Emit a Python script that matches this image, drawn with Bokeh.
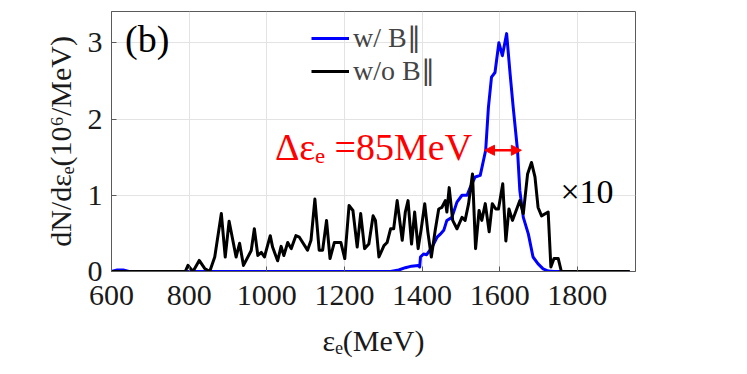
from bokeh.plotting import figure
from bokeh.models import (Range1d, Legend, LegendItem, Label, Arrow,
                          NormalHead, FixedTicker, ColumnDataSource)
from bokeh.embed import file_html
from bokeh.resources import INLINE

# ---- data ----
# energy (MeV) and dN/dE (10^6/MeV) with parallel B field
w_B_energy = [600, 615, 630, 645, 1319, 1340, 1357, 1373, 1390, 1394, 1396, 1404, 1412,
              1426, 1439, 1447, 1456, 1464, 1477, 1490, 1503, 1516, 1524, 1537, 1550,
              1558, 1564, 1571, 1579, 1588, 1598, 1607, 1618, 1627, 1635, 1646, 1652,
              1661, 1674, 1686, 1699, 1712, 1725, 1740, 1935]
w_B_value = [0, 0.02, 0.02, 0, 0, 0.02, 0.05, 0.07, 0.08, 0.06, 0.19, 0.23, 0.22,
             0.32, 0.45, 0.49, 0.54, 0.67, 0.71, 0.91, 1.00, 1.00, 1.10, 1.24, 1.26,
             1.45, 1.59, 2.15, 2.55, 2.61, 3.00, 2.83, 3.12, 2.59, 2.15, 1.59, 1.06,
             0.71, 0.49, 0.19, 0.10, 0.035, 0.005, 0, 0]

# energy (MeV) and dN/dE (shown x10) without parallel B field
wo_B_energy = [600, 790, 797, 810, 826, 840, 853, 866, 883, 893, 903, 921, 930, 940,
               960, 968, 977, 986, 994, 1009, 1015, 1028, 1037, 1044, 1054, 1063, 1075,
               1084, 1105, 1114, 1124, 1135, 1144, 1154, 1163, 1174, 1191, 1201, 1212,
               1222, 1233, 1242, 1252, 1263, 1274, 1280, 1289, 1302, 1310, 1319, 1327,
               1336, 1349, 1357, 1364, 1373, 1381, 1390, 1398, 1407, 1415, 1424, 1434,
               1443, 1451, 1460, 1464, 1470, 1479, 1490, 1503, 1511, 1520, 1530, 1538,
               1547, 1554, 1563, 1573, 1581, 1590, 1597, 1608, 1616, 1624, 1633, 1644,
               1652, 1661, 1672, 1682, 1691, 1699, 1708, 1725, 1732, 1740, 1751, 1759, 1935]
wo_B_value_x10 = [0, 0, 0.08, 0, 0.145, 0.04, 0, 0.19, 0.76, 0.19, 0.66, 0.19, 0.37, 0.08,
                  0.275, 0.56, 0.21, 0.25, 0.19, 0.47, 0.32, 0.14, 0.33, 0.21, 0.38, 0.30, 0.47,
                  0.45, 0.28, 0.41, 0.95, 0.28, 0.28, 0.67, 0.17, 0.38, 0.38, 0.17, 0.865,
                  0.80, 0.32, 0.76, 0.30, 0.36, 0.73, 0.67, 0.19, 0.34, 0.38, 0.56, 0.56,
                  0.93, 0.41, 0.78, 0.93, 0.36, 0.78, 0.30, 0.56, 0.89, 0.52, 0.19, 0.54,
                  0.82, 0.84, 0.93, 0.78, 1.10, 0.67, 0.56, 0.71, 0.67, 0.89, 1.28, 0.30,
                  0.80, 0.67, 0.89, 0.52, 0.89, 0.82, 0.82, 1.15, 0.40, 0.82, 0.67, 0.82,
                  0.93, 0.76, 1.28, 1.43, 1.24, 0.84, 0.73, 0.78, 0.06, 0.17, 0.17, 0, 0]

x_ticks = [600, 800, 1000, 1200, 1400, 1600, 1800]
y_ticks = [0, 1, 2, 3]
x_limits = (600, 1950)
y_limits = (0, 3.41)

fwhm_lo, fwhm_hi, fwhm_level = 1561, 1656, 1.59
fwhm_text = "Δεₑ =85MeV"

SERIF = "Liberation Serif"
AX = "#5a5a5a"

p = figure(frame_width=524, frame_height=260, output_backend="svg", toolbar_location=None,
           x_range=Range1d(*x_limits), y_range=Range1d(*y_limits),
           min_border_left=111, min_border_top=11, min_border_right=100, min_border_bottom=97)
p.background_fill_color = "white"
p.border_fill_color = "white"
p.outline_line_color = AX
p.outline_line_width = 1

for ax in (p.xaxis[0], p.yaxis[0]):
    ax.major_tick_in = 5
    ax.major_tick_out = 0
    ax.minor_tick_line_color = None
    ax.axis_line_color = AX
    ax.major_tick_line_color = AX
    ax.major_label_text_font = SERIF
    ax.major_label_text_font_size = "30px"
    ax.major_label_text_color = "#1a1a1a"
    ax.axis_label_text_font = SERIF
    ax.axis_label_text_font_size = "30px"
    ax.axis_label_text_font_style = "normal"
    ax.axis_label_text_color = "#1a1a1a"

p.xaxis[0].ticker = FixedTicker(ticks=x_ticks)
p.yaxis[0].ticker = FixedTicker(ticks=y_ticks)
p.xaxis[0].axis_label = "εₑ(MeV)"
p.yaxis[0].axis_label = "dN/dεₑ(10⁶/MeV)"
p.xaxis[0].major_label_standoff = 14
p.yaxis[0].major_label_standoff = 9
p.xaxis[0].axis_label_standoff = 16
p.yaxis[0].axis_label_standoff = 8

p.xgrid.ticker = FixedTicker(ticks=x_ticks)
p.ygrid.ticker = FixedTicker(ticks=y_ticks)
p.grid.grid_line_color = "#e3e3e3"
p.grid.grid_line_width = 1

src_w = ColumnDataSource(dict(x=w_B_energy, y=w_B_value))
src_wo = ColumnDataSource(dict(x=wo_B_energy, y=wo_B_value_x10))
r_w = p.line("x", "y", source=src_w, line_color="#0000ff", line_width=3, line_join="round")
r_wo = p.line("x", "y", source=src_wo, line_color="#000000", line_width=3, line_join="round")

legend = Legend(items=[LegendItem(label="w/ B∥", renderers=[r_w]),
                       LegendItem(label="w/o B∥", renderers=[r_wo])],
                location=(200, 184), padding=0, margin=0, spacing=0,
                glyph_width=38, glyph_height=32, label_height=32, label_standoff=4,
                label_text_font=SERIF, label_text_font_size="28px",
                border_line_color=None, background_fill_alpha=0)
p.add_layout(legend, "center")

p.add_layout(Label(x=635, y=3.05, text="(b)", text_font=SERIF, text_font_size="38px",
                   text_baseline="middle", text_align="left", text_color="#000000"))
p.add_layout(Label(x=1825, y=1.05, text="×10", text_font=SERIF, text_font_size="34px",
                   text_baseline="middle", text_align="center", text_color="#000000"))
p.add_layout(Label(x=fwhm_lo - 32, y=1.63, text=fwhm_text, text_font=SERIF,
                   text_font_size="38px", text_baseline="middle", text_align="right",
                   text_color="#ff0000"))
p.add_layout(Arrow(x_start=fwhm_lo, y_start=fwhm_level, x_end=fwhm_hi, y_end=fwhm_level,
                   line_color="#ff0000", line_width=2.5,
                   start=NormalHead(size=10, fill_color="#ff0000", line_color="#ff0000"),
                   end=NormalHead(size=10, fill_color="#ff0000", line_color="#ff0000")))

open("out.html", "w").write(file_html(p, INLINE))
